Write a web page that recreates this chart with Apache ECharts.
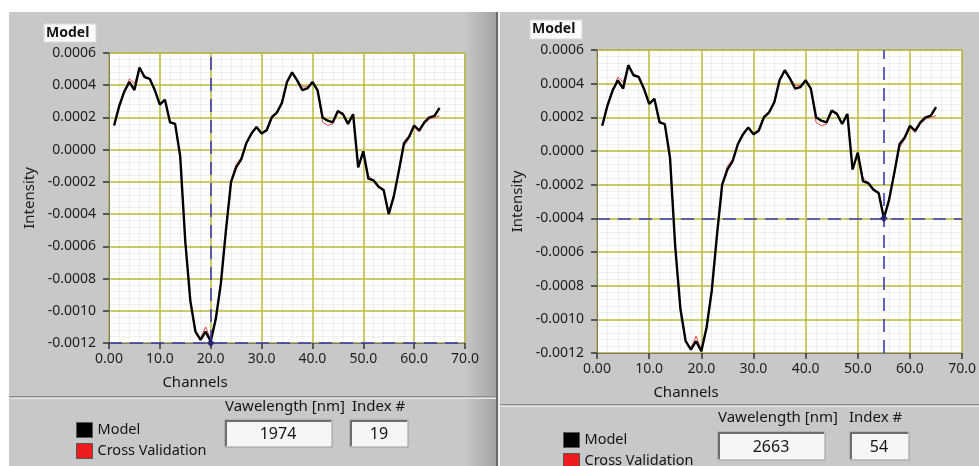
<!DOCTYPE html>
<html>
<head>
<meta charset="utf-8">
<title>Model / Cross Validation</title>
<script src="https://cdn.jsdelivr.net/npm/echarts@6/dist/echarts.min.js"></script>
<style>
  html, body { margin: 0; padding: 0; background: #fff; }
  #chart { width: 979px; height: 466px; }
</style>
</head>
<body>
<div id="chart"></div>
<script>
const channels = [
  1, 2, 3, 4, 5, 6, 7, 8, 9, 10, 11, 12, 13, 14, 15, 16, 17, 18, 19, 20,
  21, 22, 23, 24, 25, 26, 27, 28, 29, 30, 31, 32, 33, 34, 35, 36, 37, 38, 39, 40,
  41, 42, 43, 44, 45, 46, 47, 48, 49, 50, 51, 52, 53, 54, 55, 56, 57, 58, 59, 60,
  61, 62, 63, 64, 65
];
const modelValues = [
  0.00015, 0.00027, 0.00036, 0.00042, 0.00037, 0.00051, 0.00045, 0.00044, 0.00037, 0.00028,
  0.00031, 0.00017, 0.00016, -0.00004, -0.00057, -0.00094, -0.00113, -0.00118, -0.00113, -0.00119,
  -0.00105, -0.00083, -0.00050, -0.00020, -0.00011, -0.00006, 0.00004, 0.00010, 0.00014, 0.00010,
  0.00012, 0.00020, 0.00023, 0.00029, 0.00042, 0.00048, 0.00043, 0.00037, 0.00038, 0.00042,
  0.00037, 0.00020, 0.00018, 0.00017, 0.00024, 0.00022, 0.00016, 0.00022, -0.00011, -0.00001,
  -0.00018, -0.00019, -0.00023, -0.00025, -0.00040, -0.00029, -0.00013, 0.00004, 0.00008, 0.00015,
  0.00012, 0.00017, 0.00020, 0.00021, 0.00026
];
const crossValidation = [
  0.00015, 0.00026, 0.00035, 0.00044, 0.00041, 0.00050, 0.00046, 0.00044, 0.00037, 0.00028,
  0.00031, 0.00018, 0.00016, -0.00004, -0.00057, -0.00094, -0.00113, -0.00117, -0.00110, -0.00118,
  -0.00105, -0.00083, -0.00050, -0.00019, -0.00009, -0.00005, 0.00004, 0.00009, 0.00014, 0.00010,
  0.00013, 0.00021, 0.00023, 0.00030, 0.00042, 0.00047, 0.00043, 0.00039, 0.00039, 0.00041,
  0.00037, 0.00017, 0.00015, 0.00016, 0.00023, 0.00023, 0.00016, 0.00021, -0.00010, -0.00002,
  -0.00016, -0.00019, -0.00022, -0.00026, -0.00039, -0.00028, -0.00014, 0.00002, 0.00007, 0.00014,
  0.00011, 0.00016, 0.00019, 0.00020, 0.00021
];
const xTickLabels = ['0.00', '10.0', '20.0', '30.0', '40.0', '50.0', '60.0', '70.0'];
const yTickLabels = ['-0.0012', '-0.0010', '-0.0008', '-0.0006', '-0.0004', '-0.0002', '0.0000', '0.0002', '0.0004', '0.0006'];
// cursor position, wavelength and index shown under each graph
const cursorLeft = { x: 20, y: -0.0012, wavelength: '1974', index: '19' };
const cursorRight = { x: 55, y: -0.0004, wavelength: '2663', index: '54' };

const FONT = '"Noto Sans", "DejaVu Sans", sans-serif';
const chart = echarts.init(document.getElementById('chart'), null, { renderer: 'canvas' });

function xAxisFor(gridIndex) {
  return {
    type: 'value', gridIndex: gridIndex, min: 0, max: 70, interval: 10,
    axisLine: { show: true, onZero: false, lineStyle: { color: '#7a7a7a', width: 1 } },
    axisTick: { show: true, inside: false, length: 6, lineStyle: { color: '#333', width: 1.5 } },
    minorTick: { show: true, splitNumber: 5, length: 0 },
    minorSplitLine: { show: true, lineStyle: { color: 'rgba(0,0,0,0.06)', width: 1 } },
    splitLine: { show: true, lineStyle: { color: '#bcb83a', width: 1.5 } },
    axisLabel: {
      margin: 9, fontFamily: FONT, fontSize: 14, color: '#1e1e1e',
      formatter: v => xTickLabels[Math.round(v / 10)]
    }
  };
}
function yAxisFor(gridIndex) {
  return {
    type: 'value', gridIndex: gridIndex, min: -0.0012, max: 0.0006, interval: 0.0002,
    name: 'Intensity', nameLocation: 'middle', nameGap: 72,
    nameTextStyle: { fontFamily: FONT, fontSize: 15, color: '#1e1e1e' },
    axisLine: { show: true, onZero: false, lineStyle: { color: '#7a7a7a', width: 1 } },
    axisTick: { show: true, length: 6, lineStyle: { color: '#333', width: 1.5 } },
    minorTick: { show: true, splitNumber: 5, length: 0 },
    minorSplitLine: { show: true, lineStyle: { color: 'rgba(0,0,0,0.06)', width: 1 } },
    splitLine: { show: true, lineStyle: { color: '#bcb83a', width: 1.5 } },
    axisLabel: {
      margin: 13, fontFamily: FONT, fontSize: 14, color: '#1e1e1e',
      formatter: v => yTickLabels[Math.round((v + 0.0012) / 0.0002)]
    }
  };
}

function seriesFor(axisIndex, cursor) {
  const cv = channels.map((c, i) => [c, crossValidation[i]]);
  const model = channels.map((c, i) => [c, modelValues[i]]);
  return [
    {
      name: 'Cross Validation', type: 'line', xAxisIndex: axisIndex, yAxisIndex: axisIndex,
      data: cv, symbol: 'none', color: '#ee1c1c',
      lineStyle: { color: '#e34848', width: 1 }, z: 3
    },
    {
      name: 'Model', type: 'line', xAxisIndex: axisIndex, yAxisIndex: axisIndex,
      data: model, symbol: 'none', color: '#000',
      lineStyle: { color: '#000', width: 2.4 }, z: 4,
      markLine: {
        silent: true, symbol: 'none', animation: false,
        label: { show: false },
        lineStyle: { color: '#3c3cb4', width: 1.6, type: [13, 8] },
        data: [
          [{ coord: [cursor.x, -0.0012] }, { coord: [cursor.x, 0.0006] }],
          [{ coord: [0, cursor.y] }, { coord: [70, cursor.y] }]
        ]
      }
    },
    {
      name: 'Cursor', type: 'scatter', xAxisIndex: axisIndex, yAxisIndex: axisIndex,
      data: [[cursor.x, cursor.y]], symbol: 'diamond', symbolSize: 8,
      itemStyle: { color: '#17176a' }, z: 5, silent: true
    }
  ];
}

function legendFor(left, top) {
  return {
    left: left, top: top, orient: 'vertical', selectedMode: false, height: 60,
    data: ['Model', 'Cross Validation'], icon: 'rect',
    itemWidth: 16, itemHeight: 15, itemGap: 5,
    itemStyle: { borderColor: '#555', borderWidth: 1 },
    textStyle: { fontFamily: FONT, fontSize: 14.5, lineHeight: 15, color: '#151515' }
  };
}

function textEl(x, y, text, size, align, weight) {
  return {
    type: 'text', x: x, y: y, silent: true,
    style: {
      text: text, fill: '#151515', fontFamily: FONT, fontSize: size,
      fontWeight: weight || 'normal', textAlign: align || 'left', textVerticalAlign: 'middle'
    }
  };
}
function boxEl(x, y, w, h) {
  return [
    { type: 'rect', shape: { x: x, y: y, width: w, height: h }, style: { fill: '#f6f6f6', stroke: '#9a9a9a', lineWidth: 1 }, silent: true },
    { type: 'polyline', shape: { points: [[x + 1, y + h - 1], [x + 1, y + 1], [x + w - 1, y + 1]] }, style: { stroke: '#6e6e6e', lineWidth: 2, fill: null }, silent: true }
  ];
}

const graphics = [
  // white margins around the two panels
  { type: 'rect', shape: { x: 0, y: 0, width: 979, height: 12 }, style: { fill: '#fff' }, silent: true },
  { type: 'rect', shape: { x: 0, y: 0, width: 9, height: 466 }, style: { fill: '#fff' }, silent: true },
  // shaded right edge of the left panel and the divider
  {
    type: 'rect', shape: { x: 466, y: 12, width: 31, height: 454 }, silent: true,
    style: { fill: new echarts.graphic.LinearGradient(0, 0, 1, 0, [{ offset: 0, color: '#c6c6c6' }, { offset: 1, color: '#a2a2a2' }]) }
  },
  { type: 'rect', shape: { x: 496, y: 12, width: 2, height: 454 }, style: { fill: '#6a6a6a' }, silent: true },
  { type: 'rect', shape: { x: 498, y: 12, width: 2, height: 454 }, style: { fill: '#efefef' }, silent: true },
  // separators above the bottom controls
  { type: 'rect', shape: { x: 9, y: 396, width: 487, height: 1.5 }, style: { fill: '#8c8c8c' }, silent: true },
  { type: 'rect', shape: { x: 9, y: 397.5, width: 487, height: 1.5 }, style: { fill: '#e6e6e6' }, silent: true },
  { type: 'rect', shape: { x: 500, y: 404, width: 479, height: 1.5 }, style: { fill: '#8c8c8c' }, silent: true },
  { type: 'rect', shape: { x: 500, y: 405.5, width: 479, height: 1.5 }, style: { fill: '#e6e6e6' }, silent: true },
  // graph captions
  { type: 'rect', shape: { x: 44, y: 24, width: 52, height: 18 }, style: { fill: '#fbfbfb', stroke: '#d8d8d8' }, silent: true },
  textEl(46, 33, 'Model', 14, 'left', 'bold'),
  { type: 'rect', shape: { x: 530, y: 20, width: 52, height: 19 }, style: { fill: '#fbfbfb', stroke: '#d8d8d8' }, silent: true },
  textEl(532, 29.5, 'Model', 14, 'left', 'bold'),
  // x axis names
  textEl(195, 383, 'Channels', 15, 'center'),
  textEl(686, 393, 'Channels', 15, 'center'),
  // cursor readouts
  textEl(225, 407, 'Vawelength [nm]', 15, 'left'),
  textEl(352, 407, 'Index #', 15, 'left'),
  ...boxEl(225, 420, 107, 27),
  ...boxEl(350, 420, 58, 27),
  textEl(278, 434, cursorLeft.wavelength, 16, 'center'),
  textEl(379, 434, cursorLeft.index, 16, 'center'),
  textEl(718, 418, 'Vawelength [nm]', 15, 'left'),
  textEl(849, 418, 'Index #', 15, 'left'),
  ...boxEl(718, 432, 107, 28),
  ...boxEl(850, 432, 59, 28),
  textEl(771, 447, cursorRight.wavelength, 16, 'center'),
  textEl(879, 447, cursorRight.index, 16, 'center')
];

const option = {
  backgroundColor: '#c8c8c8',
  animation: false,
  grid: [
    { left: 109, top: 53, width: 356, height: 290, show: true, backgroundColor: '#fff', borderColor: '#9a9a9a', borderWidth: 1 },
    { left: 597, top: 50, width: 372, height: 303, show: true, backgroundColor: '#fff', borderColor: '#9a9a9a', borderWidth: 1 }
  ],
  xAxis: [xAxisFor(0), xAxisFor(1)],
  yAxis: [yAxisFor(0), yAxisFor(1)],
  legend: [legendFor(71, 417), legendFor(558, 427)],
  series: [...seriesFor(0, cursorLeft), ...seriesFor(1, cursorRight)],
  graphic: graphics
};

chart.setOption(option);
</script>
</body>
</html>
